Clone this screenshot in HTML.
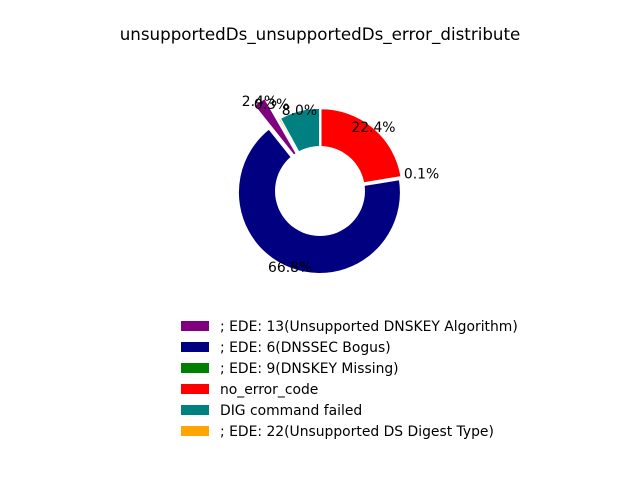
<!DOCTYPE html>
<html><head><meta charset="utf-8"><style>
body{margin:0;background:#fff}
svg{display:block;font-family:"DejaVu Sans","Liberation Sans",sans-serif}
</style></head><body>
<svg id="chart" width="640" height="480">
<text x="320" y="40" text-anchor="middle" font-size="16.7">unsupportedDs_unsupportedDs_error_distribute</text>
<g id="slices"></g><circle cx="320" cy="191" r="45" fill="#fff"/><g id="labels"></g><g id="legend"></g>
</svg>
<script>
const categories=["; EDE: 13(Unsupported DNSKEY Algorithm)","; EDE: 6(DNSSEC Bogus)","; EDE: 9(DNSKEY Missing)","no_error_code","DIG command failed","; EDE: 22(Unsupported DS Digest Type)"];
const values=[2.4,66.8,0.1,22.4,8.0,0.3];
const colors=["#800080","#000080","#008000","#ff0000","#008080","#ffa500"];
const explodes=[0.33,0.02,0.02,0.02,0.02,0.02];
const labelDist=[1.0,1.0,1.25,1.0,1.0,1.2];
const NS="http://www.w3.org/2000/svg";
const cx=320,cy=191,R=81,startAngle=119.9;
const total=values.reduce((a,b)=>a+b,0);
const sl=document.getElementById('slices'),lb=document.getElementById('labels'),lg=document.getElementById('legend');
let a=startAngle;
function pt(x,y,rad,deg){const t=deg*Math.PI/180;return [x+rad*Math.cos(t),y-rad*Math.sin(t)];}
values.forEach((v,i)=>{
  const sweep=v/total*360,a0=a,a1=a+sweep,mid=(a0+a1)/2;a=a1;
  const [ox,oy]=pt(cx,cy,explodes[i]*R,mid);
  const [x0,y0]=pt(ox,oy,R,a0),[x1,y1]=pt(ox,oy,R,a1);
  const lf=sweep>180?1:0;
  const p=document.createElementNS(NS,'path');
  p.setAttribute('d',`M${ox},${oy} L${x0},${y0} A${R},${R} 0 ${lf} 0 ${x1},${y1} Z`);
  p.setAttribute('fill',colors[i]);p.setAttribute('stroke','#fff');p.setAttribute('stroke-width','1');
  
  
  sl.appendChild(p);
  const [lx,ly]=pt(ox,oy,R*labelDist[i],mid);
  const t=document.createElementNS(NS,'text');
  t.setAttribute('x',lx);t.setAttribute('y',ly+4);t.setAttribute('text-anchor','middle');t.setAttribute('font-size','13.9');
  t.textContent=v.toFixed(1)+'%';
  
  
  lb.appendChild(t);
  const ry=321+i*21;
  const rc=document.createElementNS(NS,'rect');
  rc.setAttribute('x',181);rc.setAttribute('y',ry);rc.setAttribute('width',28);rc.setAttribute('height',10);rc.setAttribute('fill',colors[i]);
  
  
  lg.appendChild(rc);
  const lt=document.createElementNS(NS,'text');
  lt.setAttribute('x',220);lt.setAttribute('y',ry+10);lt.setAttribute('font-size','13.9');
  lt.textContent=categories[i];
  
  
  lg.appendChild(lt);
});
</script>
</body></html>
